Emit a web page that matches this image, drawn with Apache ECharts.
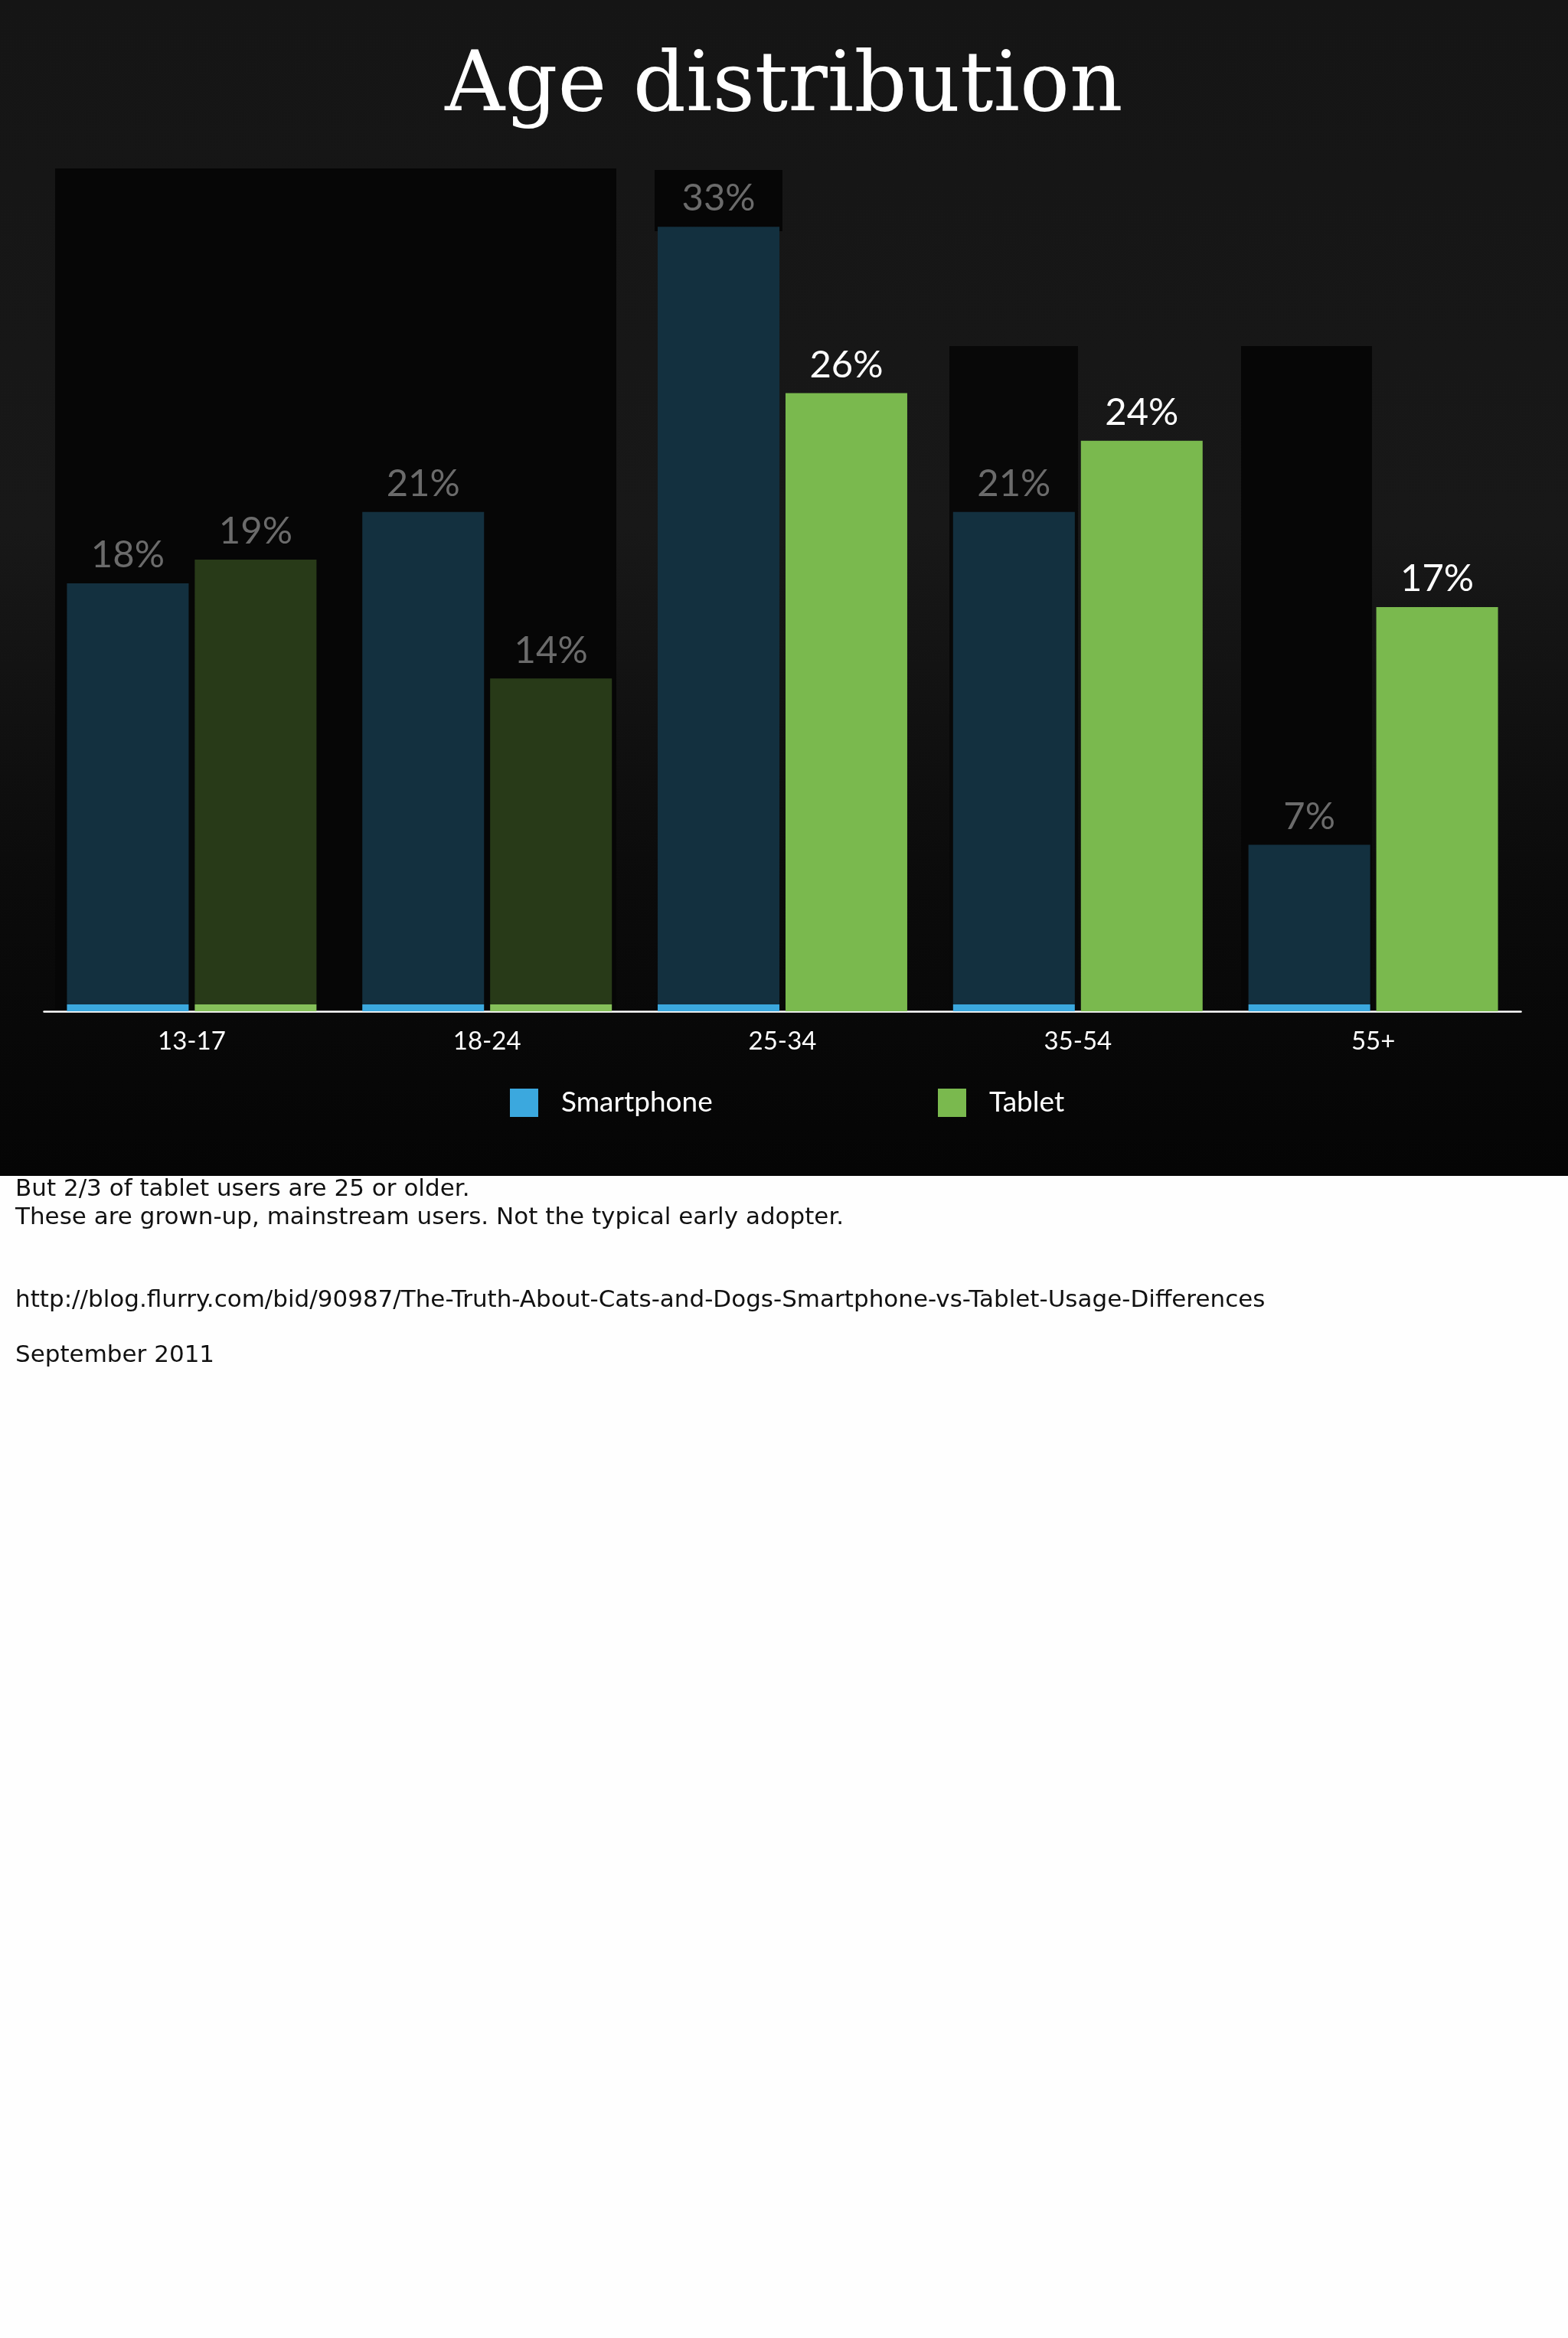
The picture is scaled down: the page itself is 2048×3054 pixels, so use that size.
<!DOCTYPE html>
<html>
<head>
<meta charset="utf-8">
<script src="https://cdn.jsdelivr.net/npm/echarts@6/dist/echarts.min.js"></script>
<style>
  html, body { margin: 0; padding: 0; background: #fefefe; }
  #chart { width: 2048px; height: 3054px; }
</style>
</head>
<body>
<div id="chart"></div>
<script>
// ---- data ----
const categories = ['13-17', '18-24', '25-34', '35-54', '55+'];
const smartphoneValues = [18, 21, 33, 21, 7];
const tabletValues = [19, 14, 26, 24, 17];
const seriesNames = ['Smartphone', 'Tablet'];
const tabletHighlighted = [false, false, true, true, true];
const titleText = 'Age distribution';
const noteLines = [
  'But 2/3 of tablet users are 25 or older.',
  'These are grown-up, mainstream users. Not the typical early adopter.',
  'http://blog.flurry.com/bid/90987/The-Truth-About-Cats-and-Dogs-Smartphone-vs-Tablet-Usage-Differences',
  'September 2011'
];

// ---- styles ----
const BASE_Y = 1321;
const blueBright = '#3ba8de';
const blueDim = '#13303f';
const greenBright = '#7ab94e';
const greenDim = '#283a18';
const greenStrip = '#86c05a';
const grayLabel = '#6b6b6b';
function stripGradient(dark, light) {
  return new echarts.graphic.LinearGradient(0, BASE_Y - 9.5, 0, BASE_Y - 8.5,
    [{ offset: 0, color: dark }, { offset: 1, color: light }], true);
}

const chart = echarts.init(document.getElementById('chart'), null, { renderer: 'canvas' });

const labelBase = {
  show: true,
  position: 'top',
  distance: 12,
  formatter: '{c}%',
  fontFamily: 'Lato',
  fontSize: 49,
  color: grayLabel
};

const option = {
  animation: false,
  backgroundColor: '#fefefe',
  graphic: [
    { type: 'rect', z: -10, shape: { x: 0, y: 0, width: 2048, height: 1536 },
      style: { fill: new echarts.graphic.LinearGradient(0, 0, 0, 1, [
        { offset: 0, color: '#151515' },
        { offset: 0.45, color: '#181818' },
        { offset: 0.75, color: '#0b0b0b' },
        { offset: 1, color: '#050505' }
      ]) } },
    { type: 'rect', z: -9, shape: { x: 72, y: 220, width: 733, height: 1101 }, style: { fill: '#060606' } },
    { type: 'rect', z: -9, shape: { x: 855, y: 222, width: 167, height: 80 }, style: { fill: '#060606' } },
    { type: 'rect', z: -9, shape: { x: 1240, y: 452, width: 168, height: 869 }, style: { fill: '#080808' } },
    { type: 'rect', z: -9, shape: { x: 1621, y: 452, width: 171, height: 869 }, style: { fill: '#060606' } },
    { type: 'text', z: 5, left: 'center', top: 62,
      style: { text: titleText, fill: '#ffffff', font: '108px "DejaVu Serif"' } }
  ].concat(noteLines.map((t, i) => ({
    type: 'text', z: 5, x: 20, y: [1554, 1591, 1699, 1771][i],
    style: { text: t, fill: '#111111', font: '31px "DejaVu Sans"', textVerticalAlign: 'middle' }
  }))),
  legend: [
    { data: [{ name: seriesNames[0], itemStyle: { color: blueBright } }],
      left: 661, top: 1417, icon: 'rect', itemWidth: 37, itemHeight: 37,
      textStyle: { color: '#ffffff', fontFamily: 'Lato', fontSize: 37, padding: [0, 0, 0, 25] } },
    { data: [{ name: seriesNames[1], itemStyle: { color: greenBright } }],
      left: 1220, top: 1417, icon: 'rect', itemWidth: 37, itemHeight: 37,
      textStyle: { color: '#ffffff', fontFamily: 'Lato', fontSize: 37, padding: [0, 0, 0, 25] } }
  ],
  grid: { left: 57.5, right: 61.5, top: BASE_Y - 35 * (1024.8 / 33), bottom: 3054 - BASE_Y, containLabel: false },
  xAxis: {
    type: 'category',
    data: categories,
    axisLine: { show: true, lineStyle: { color: '#ffffff', width: 2.5 } },
    axisTick: { show: false },
    axisLabel: { color: '#ffffff', fontFamily: 'Lato', fontSize: 33, margin: 23 },
    splitLine: { show: false }
  },
  yAxis: {
    type: 'value', min: 0, max: 35, show: false,
    splitLine: { show: false }
  },
  series: [
    {
      name: seriesNames[0],
      type: 'bar',
      barWidth: 159,
      barGap: '5%',
      itemStyle: { color: stripGradient(blueDim, blueBright) },
      label: labelBase,
      data: smartphoneValues.map(v => ({ value: v }))
    },
    {
      name: seriesNames[1],
      type: 'bar',
      barWidth: 159,
      barGap: '5%',
      itemStyle: { color: greenBright },
      label: labelBase,
      data: tabletValues.map((v, i) => ({
        value: v,
        itemStyle: { color: tabletHighlighted[i] ? greenBright : stripGradient(greenDim, greenStrip) },
        label: { color: tabletHighlighted[i] ? '#ffffff' : grayLabel }
      }))
    }
  ]
};
chart.setOption(option);
</script>
</body>
</html>
